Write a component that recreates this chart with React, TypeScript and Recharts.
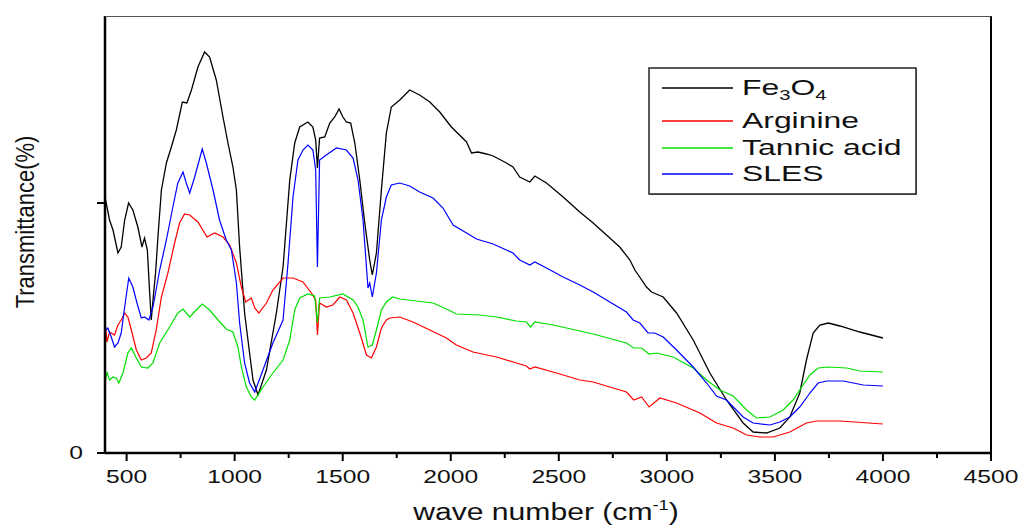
import { LineChart, Line, XAxis, YAxis, Legend } from 'recharts';

// wavenumber (cm-1) and transmittance readings for each sample
const fe3o4Wn = [400, 421, 437, 460, 475, 491, 509, 529, 552, 571, 583, 596, 606, 614, 625, 634, 645, 661, 684, 707, 730, 758, 779, 800, 830, 861, 884, 915, 946, 969, 992, 1008, 1023, 1046, 1069, 1085, 1108, 1147, 1193, 1224, 1255, 1278, 1301, 1339, 1362, 1375, 1383, 1393, 1417, 1440, 1463, 1483, 1501, 1517, 1537, 1556, 1579, 1602, 1625, 1637, 1656, 1679, 1702, 1725, 1764, 1810, 1856, 1903, 1949, 2003, 2073, 2096, 2126, 2165, 2196, 2258, 2288, 2319, 2366, 2389, 2443, 2520, 2597, 2659, 2782, 2829, 2852, 2906, 2929, 2983, 3045, 3122, 3199, 3276, 3353, 3399, 3461, 3523, 3569, 3615, 3646, 3677, 3708, 3747, 3801, 3893, 4000];
const fe3o4T = [102.4, 93.2, 89.2, 80, 82.4, 93.2, 100, 97.2, 90.4, 82.4, 86, 81.2, 65.2, 53.2, 64, 72, 86.4, 105.2, 116, 122.4, 129.2, 140.4, 140, 145.2, 154.4, 160.4, 158.4, 149.2, 134.4, 124, 114.4, 105.2, 82.4, 56, 40, 29.2, 23.2, 33.2, 56, 74.4, 109.2, 124, 130.4, 132.4, 130.4, 125.2, 114, 126, 126.4, 132, 134.4, 137.6, 134.4, 132.4, 132, 124, 109.2, 92, 77.2, 71.2, 80, 105.2, 128, 138.4, 141.2, 145.2, 143.2, 140.4, 136.4, 130.4, 124.4, 120, 120.4, 119.6, 118.8, 116, 114.4, 110.4, 108.4, 110.8, 108, 102.4, 96.4, 92, 82.4, 77.2, 73.2, 66.4, 64.4, 62.4, 56, 45.2, 32, 21.2, 12, 8.4, 8, 10, 14.4, 24, 37.2, 48, 51.2, 52, 50.8, 48.4, 46];

const argWn = [403, 409, 421, 444, 460, 475, 491, 506, 522, 545, 568, 591, 614, 637, 661, 691, 722, 745, 768, 792, 830, 872, 907, 946, 977, 1008, 1031, 1051, 1077, 1093, 1112, 1147, 1177, 1224, 1270, 1316, 1355, 1375, 1383, 1393, 1424, 1455, 1486, 1517, 1548, 1579, 1610, 1633, 1656, 1679, 1702, 1717, 1764, 1825, 1903, 1980, 2026, 2103, 2211, 2304, 2350, 2366, 2389, 2489, 2597, 2659, 2813, 2847, 2883, 2918, 2968, 3045, 3153, 3230, 3307, 3369, 3430, 3492, 3569, 3646, 3693, 3801, 4000];
const argT = [50.4, 44.4, 48.4, 47.2, 51.2, 53.2, 56, 54.4, 49.2, 41.2, 37.2, 38, 40, 49.2, 62.4, 72, 84, 92, 95.6, 95.2, 92.4, 86.4, 88, 86.4, 83.2, 76, 66.4, 60.4, 62, 58, 56, 60, 65.2, 70, 70, 68.4, 64, 61.2, 47.2, 60, 58.4, 59.2, 62.4, 61.2, 56, 48, 39.2, 38, 42.4, 50, 53.2, 54, 54.4, 52.4, 49.2, 46, 43.2, 40.4, 38.4, 36, 34.8, 33.6, 34.4, 32, 29.2, 28.4, 24.4, 21.2, 22.4, 18.4, 22, 20, 16, 12, 10, 7.2, 6.4, 6.4, 8.4, 12, 12.8, 12.8, 11.6];

const tanWn = [403, 409, 421, 437, 452, 464, 483, 506, 522, 545, 568, 599, 622, 653, 699, 737, 761, 792, 822, 850, 884, 923, 961, 992, 1015, 1031, 1054, 1077, 1093, 1131, 1177, 1224, 1255, 1278, 1301, 1339, 1370, 1383, 1393, 1440, 1501, 1548, 1571, 1594, 1617, 1637, 1656, 1679, 1702, 1730, 1764, 1841, 1918, 1980, 2026, 2134, 2211, 2304, 2350, 2369, 2389, 2474, 2597, 2659, 2813, 2847, 2883, 2918, 2952, 3029, 3122, 3184, 3245, 3307, 3369, 3415, 3477, 3538, 3584, 3630, 3662, 3700, 3747, 3832, 3893, 4000];
const tanT = [29.2, 32.4, 29.2, 30.4, 30, 28, 32, 40, 42, 38, 34.4, 34, 36, 44, 50.4, 56, 57.6, 54.4, 57.2, 59.6, 57.2, 53.2, 49.6, 48.4, 42.4, 34.4, 26.4, 22.4, 21.2, 26.4, 32, 37.2, 45.2, 57.2, 62, 63.6, 62.8, 52, 62, 62.4, 63.6, 61.2, 58.4, 53.2, 42.4, 43.2, 49.2, 57.2, 60.4, 62.4, 61.6, 60.8, 60, 57.6, 55.6, 55.2, 54.4, 52.8, 52.4, 50.4, 52.4, 51.2, 48.8, 47.6, 44, 42, 42, 39.6, 40, 38.4, 34, 29.2, 25.2, 22.8, 17.2, 14, 14.4, 17.2, 21.2, 27.2, 31.2, 34, 34.4, 34, 32.8, 32.4];

const slesWn = [403, 413, 429, 444, 460, 475, 491, 510, 529, 548, 568, 583, 603, 622, 653, 684, 714, 737, 761, 776, 792, 815, 850, 869, 900, 930, 961, 985, 1008, 1023, 1046, 1069, 1093, 1131, 1177, 1224, 1247, 1270, 1293, 1316, 1339, 1362, 1375, 1383, 1393, 1424, 1471, 1517, 1548, 1571, 1594, 1617, 1625, 1637, 1656, 1679, 1702, 1725, 1764, 1810, 1856, 1918, 1964, 2011, 2073, 2119, 2196, 2288, 2319, 2366, 2389, 2443, 2520, 2597, 2659, 2813, 2844, 2875, 2913, 2944, 2983, 3045, 3122, 3184, 3230, 3276, 3353, 3399, 3477, 3523, 3569, 3615, 3662, 3700, 3739, 3816, 3909, 4000];
const slesT = [49.2, 50, 46.4, 42.4, 44, 48, 58.4, 70, 66.4, 60, 54, 54.4, 53.2, 58.4, 73.2, 85.2, 98.4, 108, 112.4, 108, 104, 110.4, 121.6, 116, 105.2, 93.2, 85.2, 81.2, 68, 52, 36, 28, 24.4, 33.2, 44, 53.2, 76, 102.4, 117.2, 121.2, 123.2, 121.2, 113.2, 74.4, 117.2, 119.2, 122, 121.2, 118, 109.2, 93.2, 66, 68, 62.4, 72, 93.2, 102.4, 107.2, 108, 106.8, 104.4, 102, 98, 91.2, 88, 85.6, 83.6, 80, 77.2, 75.2, 76.4, 74, 70.4, 67.2, 64.4, 56.4, 53.2, 52, 48, 48, 46.4, 41.2, 34.4, 28, 22.8, 21.2, 14.4, 12, 11.2, 12.4, 14.4, 18.4, 24, 28, 28.8, 28.8, 27.2, 26.8];

const seriesNames = ['Fe3O4', 'Arginine', 'Tannic acid', 'SLES'];
const seriesColors = ['#000000', '#ff0000', '#00e000', '#0000ff'];

const xTicks = [500, 750, 1000, 1250, 1500, 1750, 2000, 2250, 2500, 2750, 3000, 3250, 3500, 3750, 4000, 4250, 4500];
const yTicks = [0, 100];
const X_MAX = 4500;
const Y_MAX = 174.8;

const W = 1023;
const H = 526;
const MARGIN = { top: 16, right: 32, left: 45, bottom: 0 };
const Y_AXIS_W = 60;
const X_AXIS_H = 73;
const PLOT_LEFT = MARGIN.left + Y_AXIS_W;
const PLOT_W = W - MARGIN.left - MARGIN.right - Y_AXIS_W;
const PLOT_H = H - MARGIN.top - MARGIN.bottom - X_AXIS_H;

const FONT = "'Liberation Sans', Arial, sans-serif";

const toRows = (wn: number[], t: number[]) => wn.map((w, i) => ({ wn: w, t: t[i] }));

function XTick({ x, y, payload }: any) {
  const major = payload.value % 500 === 0;
  return (
    <g>
      <line x1={x} x2={x} y1={y} y2={y + (major ? 8 : 5)} stroke="#000" strokeWidth={2} />
      {major && (
        <text
          transform={`translate(${x},${y + 30}) scale(1.37,1)`}
          textAnchor="middle"
          fontSize={18}
          fontFamily={FONT}
          fill="#111"
        >
          {payload.value}
        </text>
      )}
    </g>
  );
}

function YTick({ x, y, payload }: any) {
  return (
    <g>
      <line x1={x - 8} x2={x} y1={y} y2={y} stroke="#000" strokeWidth={2} />
      {payload.value === 0 && (
        <text
          transform={`translate(${x - 29},${y + 6}) scale(1.37,1)`}
          textAnchor="middle"
          fontSize={18}
          fontFamily={FONT}
          fill="#111"
        >
          0
        </text>
      )}
    </g>
  );
}

const xTitle = () => (
  <text
    transform="translate(546,520) scale(1.31,1)"
    textAnchor="middle"
    fontSize={23}
    fontFamily={FONT}
    fill="#111"
  >
    wave number (cm<tspan fontSize={14} dy={-10}>-1</tspan>
    <tspan dy={10}>)</tspan>
  </text>
);

const yTitle = () => (
  <text
    transform="translate(34,222) scale(1.2,1) rotate(-90)"
    textAnchor="middle"
    fontSize={22}
    fontFamily={FONT}
    fill="#111"
  >
    Transmittance(%)
  </text>
);

function LegendBox() {
  const rowsY = [21, 54, 81, 107];
  return (
    <svg width={272} height={132} style={{ display: 'block' }}>
      <rect x={2} y={2} width={267} height={126} fill="#888" />
      <rect x={1} y={1} width={267} height={126} fill="#fff" stroke="#222" strokeWidth={1.5} />
      {seriesNames.map((name, i) => (
        <g key={name}>
          <line x1={14} x2={85} y1={rowsY[i]} y2={rowsY[i]} stroke={seriesColors[i]} strokeWidth={1.3} />
          <text
            transform={`translate(94,${rowsY[i] + 7}) scale(1.45,1)`}
            fontSize={22}
            fontFamily={FONT}
            fill="#111"
          >
            {name === 'Fe3O4' ? (
              <>
                Fe<tspan fontSize={14} dy={5}>3</tspan>
                <tspan dy={-5}>O</tspan>
                <tspan fontSize={14} dy={5}>4</tspan>
              </>
            ) : (
              name
            )}
          </text>
        </g>
      ))}
    </svg>
  );
}

const seriesData = [
  toRows(fe3o4Wn, fe3o4T),
  toRows(argWn, argT),
  toRows(tanWn, tanT),
  toRows(slesWn, slesT),
];

export default function App() {
  return (
    <div style={{ position: 'absolute', left: 0, top: 0, width: W, height: H, background: '#fff' }}>
      <LineChart width={W} height={H} margin={MARGIN}>
        <XAxis
          type="number"
          dataKey="wn"
          domain={[400, X_MAX]}
          allowDataOverflow
          ticks={xTicks}
          interval={0}
          height={X_AXIS_H}
          tickSize={0}
          tickMargin={0}
          tick={<XTick />}
          axisLine={{ stroke: '#000', strokeWidth: 2.5 }}
          label={xTitle}
        />
        <YAxis
          type="number"
          domain={[0, Y_MAX]}
          allowDataOverflow
          ticks={yTicks}
          width={Y_AXIS_W}
          tickSize={0}
          tickMargin={0}
          tick={<YTick />}
          axisLine={{ stroke: '#000', strokeWidth: 2.5 }}
          label={yTitle}
        />
        <Legend
          layout="horizontal"
          verticalAlign="middle"
          align="center"
          wrapperStyle={{ left: 648, top: 67, width: 272, height: 132 }}
          content={<LegendBox />}
        />
        {seriesNames.map((name, i) => (
          <Line
            key={name}
            data={seriesData[i]}
            dataKey="t"
            name={name}
            type="linear"
            stroke={seriesColors[i]}
            strokeWidth={i === 0 ? 1.3 : 1.2}
            dot={false}
            isAnimationActive={false}
          />
        ))}
      </LineChart>
      {/* top and right edges of the plot frame */}
      <div
        style={{
          position: 'absolute',
          left: PLOT_LEFT,
          top: MARGIN.top,
          width: PLOT_W + 1,
          height: PLOT_H,
          boxSizing: 'border-box',
          borderTop: '1px solid #555',
          borderRight: '2px solid #000',
          pointerEvents: 'none',
        }}
      />
    </div>
  );
}
